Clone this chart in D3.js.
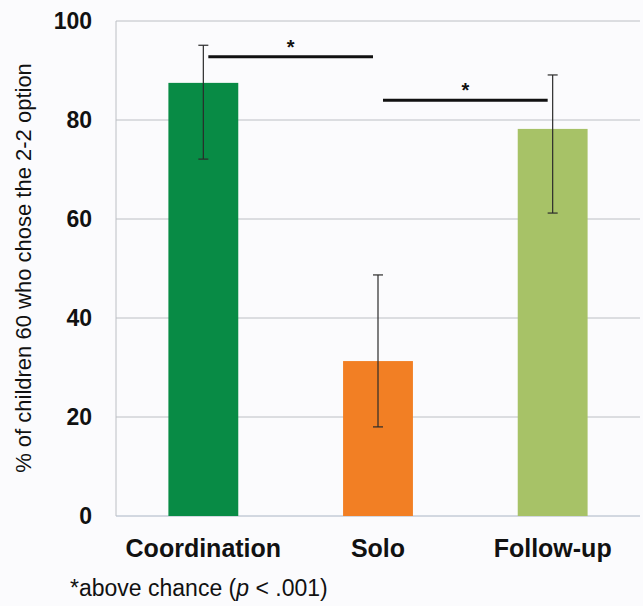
<!DOCTYPE html>
<html>
<head>
<meta charset="utf-8">
<script src="https://cdn.jsdelivr.net/npm/d3@7"></script>
<style>
  body { margin: 0; background: #fbfbfd; }
  svg { display: block; font-family: "Liberation Sans", Arial, sans-serif; }
</style>
</head>
<body>
<div id="chart"></div>
<script>
// data
const categories = ["Coordination", "Solo", "Follow-up"];
const values = [87.5, 31.3, 78.2];
const errLow = [72.1, 18.0, 61.2];
const errHigh = [95.1, 48.7, 89.1];
const barColors = ["#088b45", "#f27f24", "#a7c267"];
const yTicks = [0, 20, 40, 60, 80, 100];
// significance brackets: [from category, to category, level]
const sigPairs = [[0, 1, 92.8], [1, 2, 84.0]];

const width = 643, height = 606;
const margin = { top: 21, right: 3, bottom: 90, left: 116 };

const svg = d3.select("#chart").append("svg")
  .attr("width", width)
  .attr("height", height);

const x = d3.scaleBand()
  .domain(categories)
  .range([margin.left, width - margin.right])
  .paddingInner(0.6)
  .paddingOuter(0.3);

const y = d3.scaleLinear()
  .domain([0, 100])
  .range([height - margin.bottom, margin.top]);

// gridlines
svg.append("g")
  .selectAll("line")
  .data(yTicks)
  .join("line")
  .attr("x1", margin.left)
  .attr("x2", width - margin.right)
  .attr("y1", d => y(d))
  .attr("y2", d => y(d))
  .attr("stroke", d => d === 0 ? "#a9b4c4" : "#bcbfc4")
  .attr("stroke-width", 1);

// left frame
svg.append("line")
  .attr("x1", margin.left).attr("x2", margin.left)
  .attr("y1", y(100)).attr("y2", y(0))
  .attr("stroke", "#bcbfc4");

// y axis labels
const yAxis = svg.append("g")
  .attr("transform", `translate(${margin.left}, 0)`)
  .call(d3.axisLeft(y).tickValues(yTicks).tickSize(0).tickPadding(24));
yAxis.select(".domain").remove();
yAxis.selectAll("text")
  .attr("font-family", "Liberation Sans, Arial, sans-serif")
  .attr("font-size", "23px")
  .attr("font-weight", "bold")
  .attr("fill", "#111");

// bars
svg.append("g")
  .selectAll("rect")
  .data(categories)
  .join("rect")
  .attr("x", d => x(d))
  .attr("y", (d, i) => y(values[i]))
  .attr("width", x.bandwidth())
  .attr("height", (d, i) => y(0) - y(values[i]))
  .attr("fill", (d, i) => barColors[i]);

// error bars
const eb = svg.append("g")
  .attr("stroke", "#2b2b2b")
  .attr("stroke-width", 1.2);
categories.forEach((c, i) => {
  const cx = x(c) + x.bandwidth() / 2;
  eb.append("line").attr("x1", cx).attr("x2", cx).attr("y1", y(errHigh[i])).attr("y2", y(errLow[i]));
  eb.append("line").attr("x1", cx - 5).attr("x2", cx + 5).attr("y1", y(errHigh[i])).attr("y2", y(errHigh[i]));
  eb.append("line").attr("x1", cx - 5).attr("x2", cx + 5).attr("y1", y(errLow[i])).attr("y2", y(errLow[i]));
});

// significance lines
sigPairs.forEach(([a, b, lvl]) => {
  const x1 = x(categories[a]) + x.bandwidth() / 2 + 5;
  const x2 = x(categories[b]) + x.bandwidth() / 2 - 5;
  svg.append("line")
    .attr("x1", x1).attr("x2", x2)
    .attr("y1", y(lvl)).attr("y2", y(lvl))
    .attr("stroke", "#111")
    .attr("stroke-width", 3);
  svg.append("text")
    .attr("x", (x1 + x2) / 2)
    .attr("y", y(lvl) - 3)
    .attr("text-anchor", "middle")
    .attr("font-size", "20px")
    .attr("font-weight", "bold")
    .attr("fill", "#111")
    .text("*");
});

// category labels
svg.append("g")
  .selectAll("text")
  .data(categories)
  .join("text")
  .attr("x", d => x(d) + x.bandwidth() / 2)
  .attr("y", 557)
  .attr("text-anchor", "middle")
  .attr("font-size", "25px")
  .attr("font-weight", "bold")
  .attr("fill", "#111")
  .text(d => d);

// y title
svg.append("text")
  .attr("transform", "translate(31, 268) rotate(-90)")
  .attr("text-anchor", "middle")
  .attr("font-size", "22px")
  .attr("fill", "#111")
  .text("% of children 60 who chose the 2-2 option");

// footnote
const foot = svg.append("text")
  .attr("x", 70)
  .attr("y", 596)
  .attr("font-size", "23px")
  .attr("fill", "#111");
foot.append("tspan").text("*above chance (");
foot.append("tspan").attr("font-style", "italic").text("p");
foot.append("tspan").text(" < .001)");
</script>
</body>
</html>
